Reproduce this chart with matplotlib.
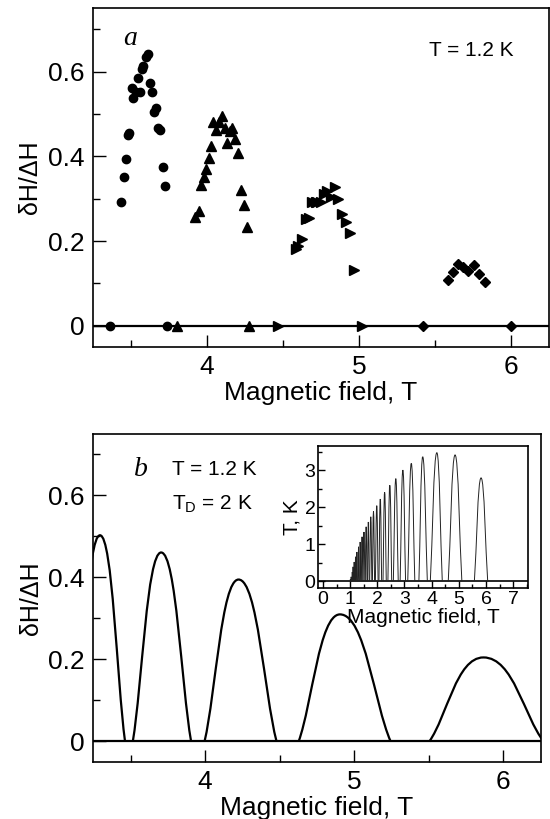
import numpy as np
import matplotlib
matplotlib.use('Agg')
import matplotlib.pyplot as plt
from matplotlib.path import Path
from matplotlib.patches import PathPatch
from matplotlib.ticker import MultipleLocator

plt.rcParams['font.family'] = ['Liberation Sans', 'DejaVu Sans']

# panel a: measured points (field in T, dH/DH)
circ_x = [3.435, 3.452, 3.468, 3.48, 3.49, 3.508, 3.516, 3.545, 3.534, 3.56, 3.573,
          3.582, 3.60, 3.61, 3.623, 3.639, 3.654, 3.665, 3.68, 3.693, 3.708, 3.724,
          3.36, 3.74]
circ_y = [0.292, 0.351, 0.393, 0.450, 0.456, 0.562, 0.538, 0.584, 0.552, 0.552, 0.607,
          0.613, 0.634, 0.641, 0.574, 0.551, 0.505, 0.513, 0.466, 0.462, 0.376, 0.330,
          0, 0]
tri_x = [3.921, 3.945, 3.963, 3.978, 3.995, 4.013, 4.03, 4.043, 4.059, 4.079, 4.098,
         4.116, 4.135, 4.151, 4.168, 4.186, 4.207, 4.225, 4.242, 4.263, 3.80, 4.28]
tri_y = [0.256, 0.270, 0.333, 0.351, 0.371, 0.395, 0.424, 0.481, 0.462, 0.481, 0.495,
         0.466, 0.431, 0.459, 0.468, 0.440, 0.408, 0.320, 0.286, 0.233, 0, 0]
rtri_x = [4.584, 4.60, 4.624, 4.65, 4.672, 4.693, 4.716, 4.726, 4.749, 4.77, 4.792,
          4.814, 4.842, 4.864, 4.89, 4.917, 4.939, 4.967, 4.47, 5.02]
rtri_y = [0.181, 0.189, 0.205, 0.251, 0.255, 0.292, 0.292, 0.292, 0.292, 0.312, 0.318,
          0.304, 0.327, 0.300, 0.264, 0.245, 0.218, 0.132, 0, 0]
dia_x = [5.586, 5.617, 5.652, 5.683, 5.718, 5.755, 5.788, 5.827, 5.42, 6.0]
dia_y = [0.108, 0.126, 0.147, 0.140, 0.129, 0.144, 0.122, 0.104, 0, 0]

# panel b: calculated arches (left zero, peak field, peak value, right zero)
b_lo = [3.127, 3.515, 3.996, 4.627, 5.503]
b_pk = [3.295, 3.705, 4.224, 4.904, 5.866]
b_h = [0.503, 0.461, 0.395, 0.310, 0.205]
b_hi = [3.463, 3.906, 4.479, 5.244, 6.27]

# inset: T(B) arches
in_pk = [5.816, 4.86, 4.19, 3.67, 3.25, 2.94, 2.68, 2.46, 2.27, 2.11, 1.98, 1.86, 1.76,
         1.67, 1.59, 1.51, 1.44, 1.37, 1.31, 1.25, 1.20, 1.15, 1.11, 1.08, 1.04, 1.01]
in_h = [2.79, 3.41, 3.47, 3.36, 3.18, 3.00, 2.77, 2.59, 2.40, 2.22, 2.04, 1.89, 1.74,
        1.60, 1.47, 1.33, 1.20, 1.06, 0.93, 0.79, 0.66, 0.52, 0.39, 0.25, 0.12, 0.05]
in_lo = [5.57, 4.61, 3.95, 3.53, 3.12, 2.84, 2.59, 2.39, 2.21, 2.06, 1.93, 1.82, 1.72,
         1.64, 1.56, 1.48, 1.415, 1.35, 1.29, 1.23, 1.183, 1.134, 1.095, 1.066, 1.027, 1.0]
in_hi = [6.06, 5.11, 4.39, 3.84, 3.38, 3.04, 2.77, 2.53, 2.33, 2.16, 2.03, 1.90, 1.80,
         1.70, 1.62, 1.54, 1.465, 1.39, 1.33, 1.27, 1.217, 1.166, 1.125, 1.094, 1.053, 1.02]


def arch(ax, lo, pk, h, hi, **kw):
    # smooth hump through (lo,0) -> (pk,h) -> (hi,0), drawn in data coords
    a, b, c = 0.33, 0.30, 0.50
    wl, wr = pk - lo, hi - pk
    verts = [(lo, 0), (lo + a * wl, b * h), (lo + c * wl, h), (pk, h),
             (pk + (1 - c) * wr, h), (pk + (1 - a) * wr, b * h), (hi, 0)]
    codes = [Path.MOVETO] + [Path.CURVE4] * 6
    ax.add_patch(PathPatch(Path(verts, codes), fill=False, **kw))


def style(ax, size=19):
    ax.tick_params(which='both', direction='in', labelsize=size, width=1.0)
    ax.tick_params(which='major', length=9)
    ax.tick_params(which='minor', length=5)
    for s in ax.spines.values():
        s.set_linewidth(1.2)


fig = plt.figure(figsize=(5.5, 8.19), dpi=100)
ax1 = fig.add_axes([0.169, 0.5763, 0.829, 0.4139])
ax2 = fig.add_axes([0.1696, 0.0696, 0.8135, 0.4005])
ax3 = fig.add_axes([0.5787, 0.2817, 0.3807, 0.1737])

for ax in (ax1, ax2):
    ax.set_xlim(3.25, 6.25)
    ax.set_ylim(-0.05, 0.75)
    ax.axhline(0, color='black', lw=1.6, zorder=1)
    ax.xaxis.set_major_locator(MultipleLocator(1))
    ax.xaxis.set_minor_locator(MultipleLocator(0.5))
    ax.set_yticks([0, 0.2, 0.4, 0.6])
    ax.set_yticklabels(['0', '0.2', '0.4', '0.6'])
    ax.yaxis.set_minor_locator(MultipleLocator(0.1))
    style(ax)
    ax.tick_params(which='both', pad=6)
    ax.set_xlabel('Magnetic field, T', fontsize=19, labelpad=1)
    ax.set_ylabel('δH/ΔH', fontsize=18, labelpad=4)

# panel a
ax1.plot(circ_x, circ_y, 'o', color='black', ms=6, zorder=3)
ax1.plot(tri_x, tri_y, '^', color='black', ms=7, zorder=3)
ax1.plot(rtri_x, rtri_y, '>', color='black', ms=7, zorder=3)
ax1.plot(dia_x, dia_y, 'D', color='black', ms=5, zorder=3)
ax1.text(3.45, 0.678, 'a', fontsize=20, style='italic', family='Liberation Serif',
         va='center')
ax1.text(5.46, 0.65, 'T = 1.2 K', fontsize=15, va='center')

# panel b
for lo, pk, h, hi in zip(b_lo, b_pk, b_h, b_hi):
    arch(ax2, lo, pk, h, hi, color='black', lw=1.6, zorder=2)
ax2.text(3.52, 0.664, 'b', fontsize=20, style='italic', family='Liberation Serif',
         va='center')
ax2.text(3.775, 0.664, 'T = 1.2 K', fontsize=15, va='center')
ax2.text(3.775, 0.579, r'T$_\mathregular{D}$ = 2 K', fontsize=15, va='center')

# inset
ax3.set_xlim(-0.17, 7.53)
ax3.set_ylim(-0.19, 3.65)
ax3.axhline(0, color='black', lw=1.2, zorder=1)
for lo, pk, h, hi in zip(in_lo, in_pk, in_h, in_hi):
    arch(ax3, lo, pk, h, hi, color='#222222', lw=0.7, zorder=2)
ax3.xaxis.set_major_locator(MultipleLocator(1))
ax3.xaxis.set_minor_locator(MultipleLocator(0.5))
ax3.yaxis.set_major_locator(MultipleLocator(1))
ax3.yaxis.set_minor_locator(MultipleLocator(0.5))
style(ax3, size=14)
ax3.tick_params(which='major', length=5)
ax3.tick_params(which='minor', length=3)
ax3.tick_params(which='both', pad=2)
ax3.set_xlabel('Magnetic field, T', fontsize=15, labelpad=0)
ax3.set_ylabel('T, K', fontsize=15, labelpad=2)

fig.savefig('out.png', dpi=100)
